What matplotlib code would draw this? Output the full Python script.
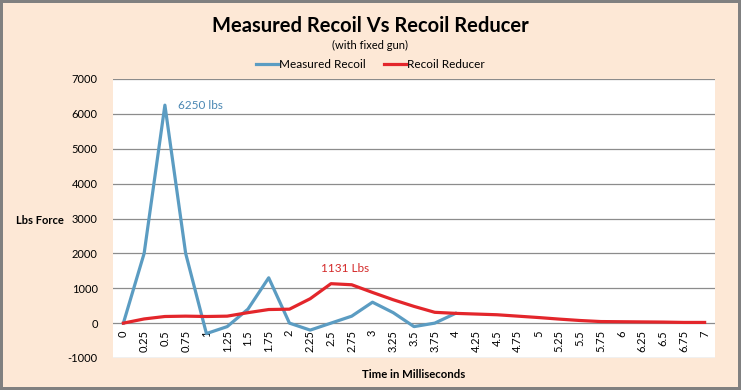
import numpy as np
import matplotlib.pyplot as plt

plt.rcParams['font.family'] = ['Lato', 'DejaVu Sans']

times = ['0', '0.25', '0.5', '0.75', '1', '1.25', '1.5', '1.75', '2', '2.25', '2.5',
         '2.75', '3', '3.25', '3.5', '3.75', '4', '4.25', '4.5', '4.75', '5', '5.25',
         '5.5', '5.75', '6', '6.25', '6.5', '6.75', '7']
measured = [0, 2000, 6250, 2000, -300, -100, 400, 1300, 0, -200, 0,
            200, 600, 300, -100, 0, 280]
reducer = [0, 120, 190, 200, 190, 200, 300, 390, 400, 700, 1131,
           1100, 880, 670, 480, 310, 280, 260, 240, 200, 160, 115,
           75, 45, 40, 35, 30, 20, 20]
yticks = [-1000, 0, 1000, 2000, 3000, 4000, 5000, 6000, 7000]

bg = '#FDE8D6'
blue = '#5B9CC2'
red = '#E3262B'

fig = plt.figure(figsize=(7.41, 3.90), dpi=100, facecolor=bg)
fig.patch.set_edgecolor('#808080')
fig.patch.set_linewidth(3)
ax = fig.add_axes([113/741, 1 - 358/390, 602/741, 279/390])
ax.set_facecolor('white')

x = np.arange(len(times))
ax.plot(x[:len(measured)], measured, color=blue, lw=2.3, label='Measured Recoil')
ax.plot(x, reducer, color=red, lw=2.3, label='Recoil Reducer')

ax.set_xlim(-0.5, len(times) - 0.5)
ax.set_ylim(-1000, 7000)
ax.set_yticks(yticks)
ax.set_yticklabels([str(v) for v in yticks], fontsize=8)
ax.grid(axis='y', color='#8C8C8C', lw=0.9)
ax.set_axisbelow(True)
ax.tick_params(axis='y', length=0, pad=11)

# category labels sit at the zero line
ax.spines['bottom'].set_position(('data', 0))
ax.spines['bottom'].set_visible(False)
ax.set_xticks(x)
ax.set_xticklabels(times, rotation=90, fontsize=8)
ax.tick_params(axis='x', length=0, pad=5)
for s in ['top', 'right', 'left']:
    ax.spines[s].set_visible(False)

ax.text(2.62, 6250, '6250 lbs', color='#4A87B3', fontsize=8.5, va='center')
ax.text(9.5, 1560, '1131 Lbs', color='#D42A2A', fontsize=8.5, va='center')

fig.text(0.5, 1 - 26/390, 'Measured Recoil Vs Recoil Reducer', ha='center', va='center',
         fontsize=14.5, fontweight='bold')
fig.text(0.5, 1 - 45/390, '(with fixed gun)', ha='center', va='center', fontsize=8)
fig.text(16/741, 1 - 221/390, 'Lbs Force', ha='left', va='center', fontsize=8,
         fontweight='bold')
fig.text(414/741, 1 - 375/390, 'Time in Milliseconds', ha='center', va='center',
         fontsize=8.2, fontweight='bold')

fig.legend(loc='center', bbox_to_anchor=(0.5, 1 - 65/390), ncol=2, frameon=False,
           fontsize=8.5, handlelength=1.8, handletextpad=0.1, columnspacing=1.6)

fig.savefig('out.png', dpi=100, facecolor=bg, edgecolor='#808080')
